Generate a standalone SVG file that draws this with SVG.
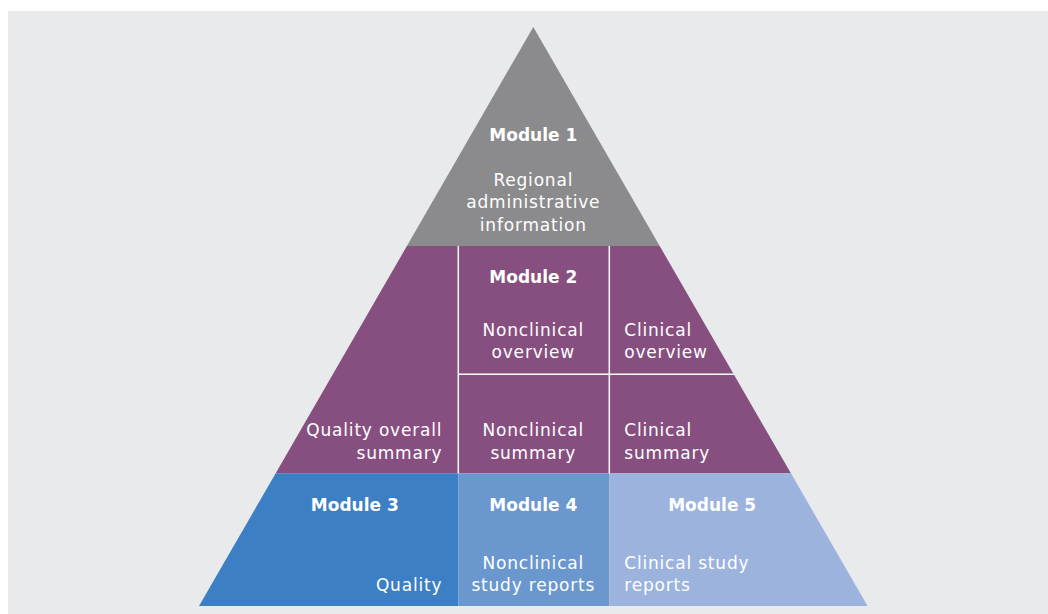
<svg xmlns="http://www.w3.org/2000/svg" width="1048" height="614" viewBox="0 0 1048 614">
<style>
.t{font-family:"DejaVu Sans","Liberation Sans",sans-serif;font-size:17px;fill:#ffffff;letter-spacing:0.8px}
.b{font-family:"DejaVu Sans","Liberation Sans",sans-serif;font-size:17px;font-weight:bold;fill:#ffffff}
.c{text-anchor:middle}
.e{text-anchor:end}
.div{stroke:#ffffff;stroke-width:1.5;fill:none}
</style>
<rect x="0" y="0" width="1048" height="614" fill="#ffffff"/>
<rect x="8" y="11" width="1040" height="603" fill="#e9eaec"/>
<g id="module1">
<polygon points="533.3,27 659.7,246 406.9,246" fill="#8b8b8d"/>
<text class="b c" x="533.3" y="140.7">Module 1</text>
<text class="t c" x="533.3" y="185.7">Regional</text>
<text class="t c" x="533.3" y="208.3">administrative</text>
<text class="t c" x="533.3" y="230.7">information</text>
</g>
<g id="module2">
<polygon points="406.9,246 659.7,246 790.9,473.3 275.7,473.3" fill="#864f7f"/>
<text class="b c" x="533.3" y="282.7">Module 2</text>
</g>
<g id="nonclinical-overview">
<text class="t c" x="533.3" y="336">Nonclinical</text>
<text class="t c" x="533.3" y="358">overview</text>
</g>
<g id="clinical-overview">
<text class="t" x="624.3" y="336">Clinical</text>
<text class="t" x="624.3" y="358">overview</text>
</g>
<g id="quality-overall-summary">
<text class="t e" x="442.3" y="436">Quality overall</text>
<text class="t e" x="442.3" y="458.5">summary</text>
</g>
<g id="nonclinical-summary">
<text class="t c" x="533.3" y="436">Nonclinical</text>
<text class="t c" x="533.3" y="458.5">summary</text>
</g>
<g id="clinical-summary">
<text class="t" x="624.3" y="436">Clinical</text>
<text class="t" x="624.3" y="458.5">summary</text>
</g>
<g id="module3">
<polygon points="275.7,473.3 458.3,473.3 458.3,606 199,606" fill="#3d7fc4"/>
<text class="b c" x="354.8" y="511">Module 3</text>
<text class="t e" x="442.3" y="590.7">Quality</text>
</g>
<g id="module4">
<rect x="458.3" y="473.3" width="151" height="132.7" fill="#6b97cf"/>
<text class="b c" x="533.3" y="511">Module 4</text>
<text class="t c" x="533.3" y="569">Nonclinical</text>
<text class="t c" x="533.3" y="590.7">study reports</text>
</g>
<g id="module5">
<polygon points="609.3,473.3 790.9,473.3 867.6,606 609.3,606" fill="#9bb3dd"/>
<text class="b c" x="712.2" y="511">Module 5</text>
<text class="t" x="624.3" y="569">Clinical study</text>
<text class="t" x="624.3" y="590.7">reports</text>
</g>
<g id="dividers">
<line class="div" x1="458.3" y1="246" x2="458.3" y2="473.3"/>
<line class="div" x1="609.3" y1="246" x2="609.3" y2="473.3"/>
<line class="div" x1="458.3" y1="374.3" x2="733.8" y2="374.3"/>
</g>
</svg>
